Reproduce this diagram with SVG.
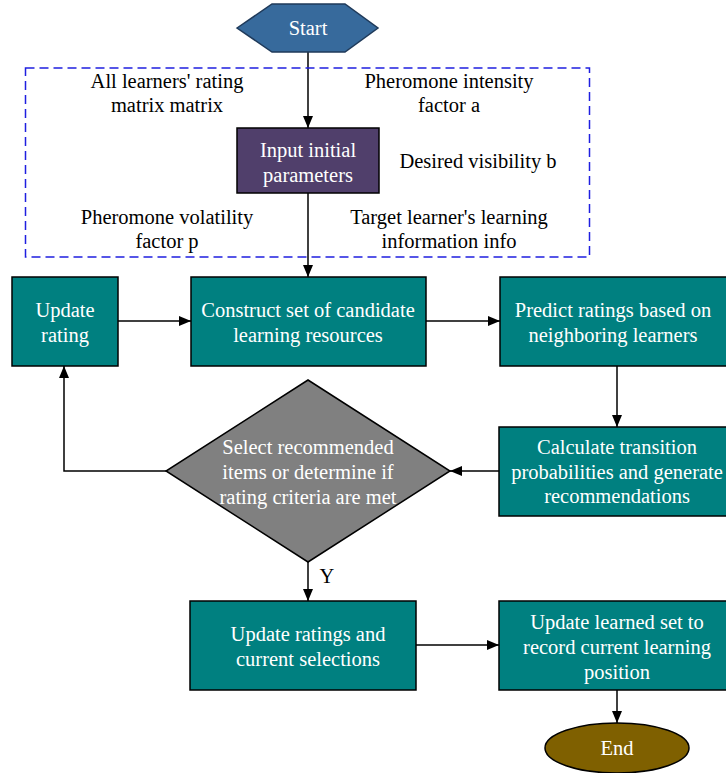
<svg xmlns="http://www.w3.org/2000/svg" width="726" height="773" viewBox="0 0 726 773">
<style>
text{font-family:"Liberation Serif","Times New Roman",serif;font-size:20.5px;text-anchor:middle}
.w{fill:#ffffff}
.k{fill:#000000}
.box{fill:#008080;stroke:#000;stroke-width:1.5}
.ln{fill:none;stroke:#000;stroke-width:1.5}
</style>
<defs>
<marker id="ah" viewBox="0 0 12 10" refX="12" refY="5" markerWidth="12" markerHeight="10" markerUnits="userSpaceOnUse" orient="auto">
<path d="M0,0 L12,5 L0,10 Z" fill="#000"/>
</marker>
</defs>
<rect width="726" height="773" fill="#fff"/>
<g id="connectors">
<line class="ln" x1="308" y1="52" x2="308" y2="128" marker-end="url(#ah)"/>
<line class="ln" x1="308" y1="193" x2="308" y2="277" marker-end="url(#ah)"/>
<line class="ln" x1="118" y1="321" x2="191" y2="321" marker-end="url(#ah)"/>
<line class="ln" x1="426" y1="321" x2="500" y2="321" marker-end="url(#ah)"/>
<line class="ln" x1="617" y1="366" x2="617" y2="427" marker-end="url(#ah)"/>
<line class="ln" x1="499" y1="471" x2="450" y2="471" marker-end="url(#ah)"/>
<polyline class="ln" points="166,471 64,471 64,366" marker-end="url(#ah)"/>
<line class="ln" x1="308" y1="562" x2="308" y2="601" marker-end="url(#ah)"/>
<text class="k" x="327" y="583">Y</text>
<line class="ln" x1="416" y1="645" x2="499" y2="645" marker-end="url(#ah)"/>
<line class="ln" x1="617" y1="690" x2="617" y2="723" marker-end="url(#ah)"/>
</g>
<g id="params">
<rect x="25.5" y="68" width="564" height="189" fill="none" stroke="#1f1fe0" stroke-width="1.5" stroke-dasharray="9,5"/>
<text class="k" x="167" y="88">All learners' rating</text>
<text class="k" x="167" y="112">matrix matrix</text>
<text class="k" x="449" y="88">Pheromone intensity</text>
<text class="k" x="449" y="112">factor a</text>
<text class="k" x="478" y="168">Desired visibility b</text>
<text class="k" x="167" y="224">Pheromone volatility</text>
<text class="k" x="167" y="248">factor p</text>
<text class="k" x="449" y="224">Target learner's learning</text>
<text class="k" x="449" y="248">information info</text>
</g>
<g id="start">
<polygon points="237,28 272,4 345,4 378,28 345,52 272,52" fill="#376a9c" stroke="#1f3a5a" stroke-width="1.5"/>
<text class="w" x="308" y="35">Start</text>
</g>
<g id="input">
<rect x="237" y="128" width="142" height="65" fill="#503f6b" stroke="#000" stroke-width="1.5"/>
<text class="w" x="308" y="157">Input initial</text>
<text class="w" x="308" y="182">parameters</text>
</g>
<g id="update-rating">
<rect class="box" x="12" y="277" width="106" height="89"/>
<text class="w" x="65" y="317">Update</text>
<text class="w" x="65" y="342">rating</text>
</g>
<g id="construct">
<rect class="box" x="191" y="277" width="235" height="89"/>
<text class="w" x="308" y="317">Construct set of candidate</text>
<text class="w" x="308" y="342">learning resources</text>
</g>
<g id="predict">
<rect class="box" x="500" y="277" width="228" height="89"/>
<text class="w" x="613" y="317">Predict ratings based on</text>
<text class="w" x="613" y="342">neighboring learners</text>
</g>
<g id="calculate">
<rect class="box" x="499" y="427" width="229" height="89"/>
<text class="w" x="617" y="454">Calculate transition</text>
<text class="w" x="617" y="479">probabilities and generate</text>
<text class="w" x="617" y="503">recommendations</text>
</g>
<g id="decision">
<polygon points="308,380 450,471 308,562 166,471" fill="#808080" stroke="#000" stroke-width="1.5"/>
<text class="w" x="308" y="454">Select recommended</text>
<text class="w" x="308" y="479">items or determine if</text>
<text class="w" x="308" y="504">rating criteria are met</text>
</g>
<g id="update-ratings">
<rect class="box" x="190" y="601" width="226" height="89"/>
<text class="w" x="308" y="641">Update ratings and</text>
<text class="w" x="308" y="666">current selections</text>
</g>
<g id="update-learned">
<rect class="box" x="499" y="601" width="229" height="89"/>
<text class="w" x="617" y="629">Update learned set to</text>
<text class="w" x="617" y="654">record current learning</text>
<text class="w" x="617" y="679">position</text>
</g>
<g id="end">
<ellipse cx="617" cy="748" rx="72" ry="25" fill="#7f6000" stroke="#000" stroke-width="1.5"/>
<text class="w" x="617" y="755">End</text>
</g>
</svg>
